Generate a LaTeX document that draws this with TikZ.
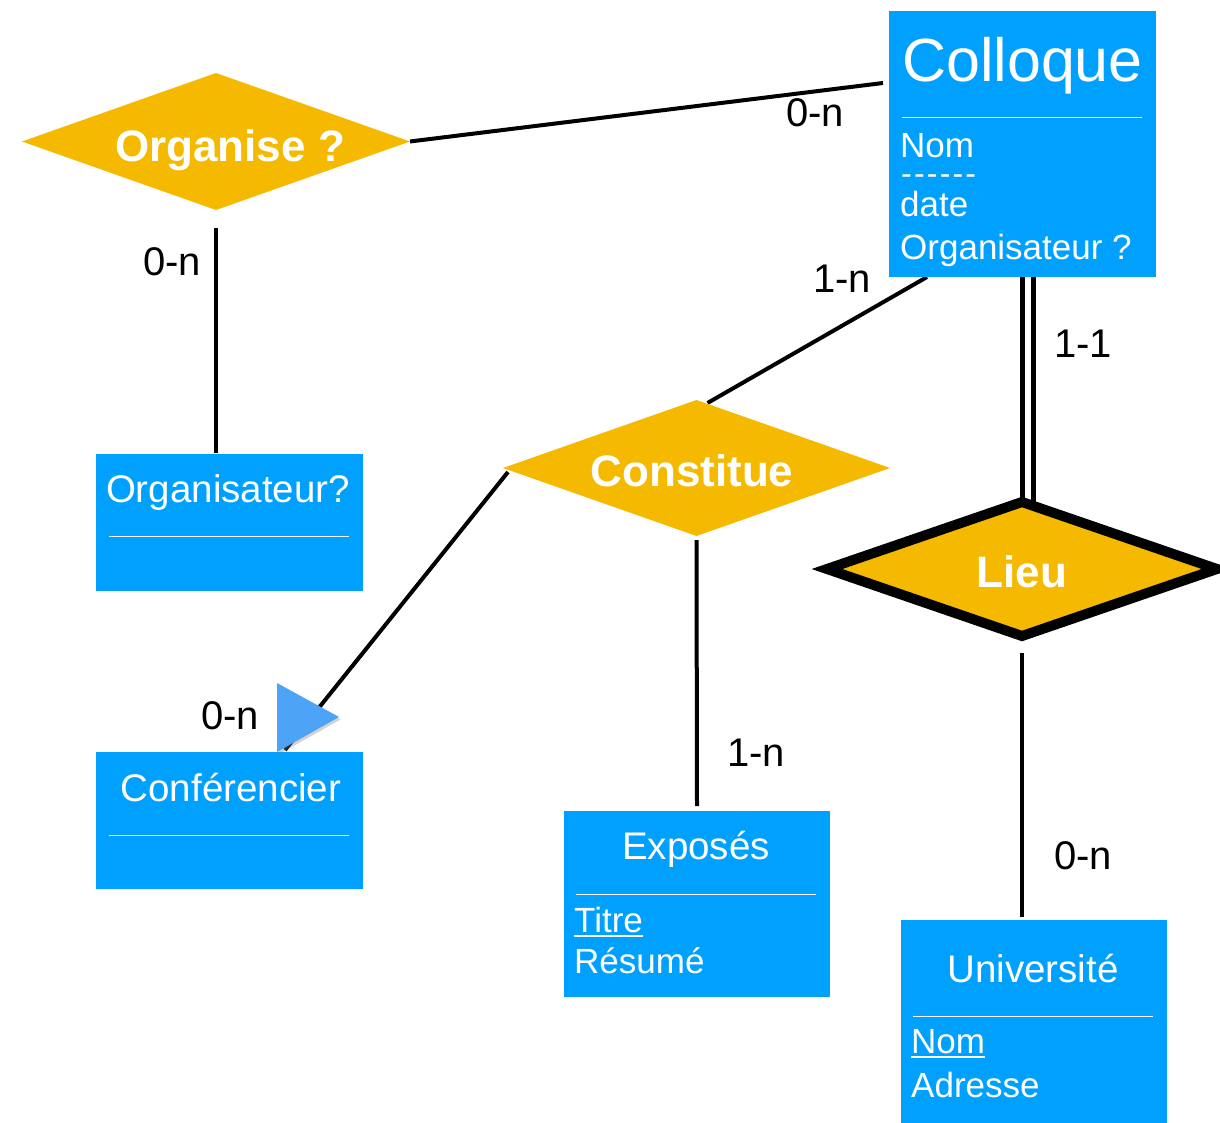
\documentclass[tikz,border=0pt]{standalone}
\usepackage{fontspec}
\setmainfont{Liberation Sans}
\usetikzlibrary{shapes.geometric,shadows,backgrounds}
\definecolor{boxblue}{RGB}{0,160,255}
\definecolor{relorange}{RGB}{245,185,0}
\definecolor{triblue}{RGB}{77,163,245}
\begin{document}
\begin{tikzpicture}[x=1pt,y=-1pt,
  entity/.style={rectangle, fill=boxblue, inner sep=0pt, outer sep=0pt},
  relation/.style={diamond, fill=relorange, inner sep=0pt, outer sep=0pt},
  link/.style={line width=4pt, black},
  sepline/.style={white, line width=1pt},
  uline/.style={white, line width=1.6pt},
  bigtitle/.style={text=white, inner sep=0pt, font=\fontsize{61}{61}\selectfont},
  etitle/.style={text=white, inner sep=0pt, font=\fontsize{38.5}{38.5}\selectfont},
  attr/.style={text=white, inner sep=0pt, anchor=base west, font=\fontsize{35}{35}\selectfont},
  rtitle/.style={text=white, inner sep=0pt, anchor=base, font=\fontsize{44}{44}\selectfont\bfseries},
  card/.style={text=black, inner sep=0pt, anchor=base, font=\fontsize{40}{40}\selectfont}
]
\useasboundingbox (0,0) rectangle (1220,1123);

% entities
\node[entity, minimum width=267, minimum height=266] (col) at (1022.5,144) {};
\node[entity, minimum width=267, minimum height=137] (orgr) at (229.5,522.5) {};
\node[entity, minimum width=267, minimum height=137] (conf) at (229.5,820.5) {};
\node[entity, minimum width=266, minimum height=186] (expo) at (697,904) {};
\node[entity, minimum width=266, minimum height=204] (univ) at (1034,1022) {};

% relations
\node[relation, minimum width=388, minimum height=137] (org) at (216,141.5) {};
\node[relation, minimum width=387, minimum height=136] (con) at (696.5,468) {};
\node[relation, draw=black, line width=10pt, minimum width=390, minimum height=134,
      drop shadow={opacity=0.3, shadow xshift=2pt, shadow yshift=-3pt}] (lieu) at (1022,569) {};

% connectors
\begin{scope}[on background layer]
\draw[link] (org.east) -- ([xshift=-6pt,yshift=-72pt]col.north west);
\draw[link] ([yshift=-18pt]org.south) -- ([yshift=1pt]org.south |- orgr.north);
\draw[link] ([xshift=38pt]col.south west) -- ([xshift=11pt,yshift=-3pt]con.north);
\draw[link] ([xshift=5pt,yshift=-4pt]con.west) -- ([xshift=189pt,yshift=2pt]conf.north west);
\draw[link] ([yshift=-4pt]con.south) -- ([yshift=5pt]expo.north);
\draw[link, line width=5pt] (col.south) -- (col.south |- lieu.north);
\draw[link, line width=5pt] ([xshift=10.5pt]col.south) -- ([xshift=10.5pt]col.south |- lieu.north);
\draw[link] ([yshift=-17pt]lieu.south) -- ([yshift=3pt]lieu.south |- univ.north);
\end{scope}

% arrow triangle
\fill[triblue, drop shadow={opacity=0.35, shadow xshift=1.5pt, shadow yshift=-2.5pt}]
  (277,683) -- (339,717) -- (277,752) -- cycle;

% Colloque content
\node[bigtitle, anchor=base] (tcol) at (1022.5,82) {Colloque};
\draw[sepline] (902,118) -- (1142,118);
\node[attr] (tcnom) at (900,158) {Nom};
\node[attr, font=\fontsize{32}{32}\selectfont] (tcdash) at (901,185)
  {{-}\kern2.2pt{-}\kern2.2pt{-}\kern2.2pt{-}\kern2.2pt{-}\kern2.2pt{-}};
\node[attr] (tcdate) at (900,217) {date};
\node[attr] (tcorg) at (900,260) {Organisateur ?};

% relation titles
\node[rtitle] (torg) at (230,162) {Organise ?};
\node[rtitle] (tcon) at (692,486) {Constitue};
\node[rtitle] (tlieu) at (1022,587) {Lieu};

% Organisateur?
\node[etitle, anchor=base] (torgr) at (228,502) {Organisateur?};
\draw[sepline] (109,536) -- (349,536);

% Conferencier
\node[etitle, anchor=base] (tconf) at (231,801) {Conférencier};
\draw[sepline] (109,835) -- (349,835);

% Exposes
\node[etitle, anchor=base] (texpo) at (696,859) {Exposés};
\draw[sepline] (576,894) -- (816,894);
\node[attr] (ttitre) at (574,932) {Titre};
\draw[uline] ([yshift=-4pt]ttitre.base west) -- ([yshift=-4pt]ttitre.base east);
\node[attr] (tresume) at (574,973) {Résumé};

% Universite
\node[etitle, anchor=base] (tuniv) at (1033,982) {Université};
\draw[sepline] (913,1016) -- (1153,1016);
\node[attr] (tunom) at (911,1053) {Nom};
\draw[uline] ([yshift=-4pt]tunom.base west) -- ([yshift=-4pt]tunom.base east);
\node[attr] (tuadr) at (911,1097) {Adresse};

% cardinalities
\node[card] (c1) at (815,127) {0-n};
\node[card] (c2) at (172,276) {0-n};
\node[card] (c3) at (842,292) {1-n};
\node[card] (c4) at (1083,357) {1-1};
\node[card] (c5) at (230,729) {0-n};
\node[card] (c6) at (756,766) {1-n};
\node[card] (c7) at (1083,869) {0-n};
\end{tikzpicture}
\end{document}
